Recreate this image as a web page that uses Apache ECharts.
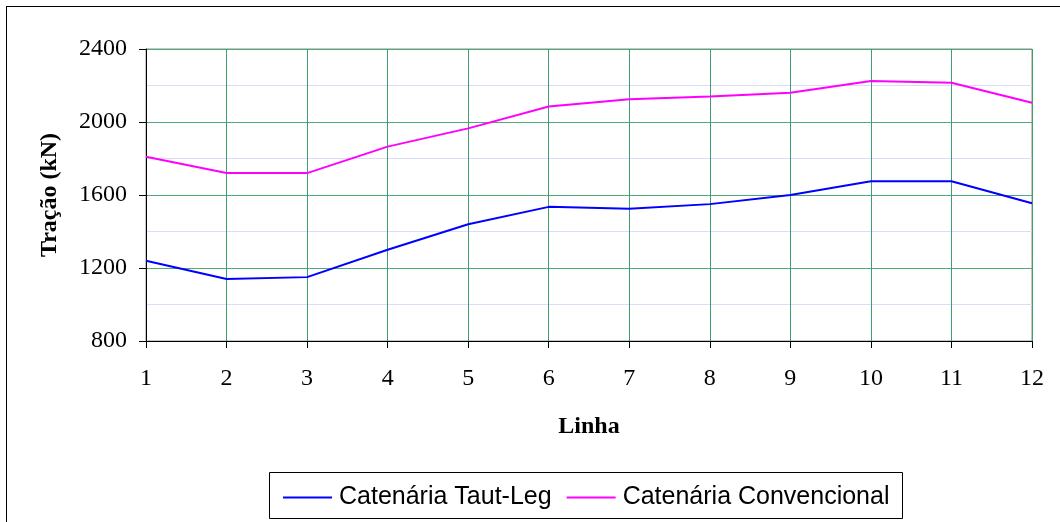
<!DOCTYPE html>
<html>
<head>
<meta charset="utf-8">
<script src="https://cdn.jsdelivr.net/npm/echarts@6/dist/echarts.min.js"></script>
<style>
html,body{margin:0;padding:0;background:#fff;}
#frame{position:absolute;left:6px;top:6px;width:1100px;height:600px;border:1px solid #000;box-sizing:border-box;}
#c{position:absolute;left:0;top:0;width:1060px;height:522px;}
</style>
</head>
<body>
<div id="frame"></div>
<div id="c"></div>
<script>
const categories = ['1','2','3','4','5','6','7','8','9','10','11','12'];
const tautLeg = [1240, 1140, 1150, 1300, 1440, 1535, 1525, 1550, 1600, 1675, 1675, 1555];
const convencional = [1810, 1720, 1720, 1865, 1965, 2085, 2125, 2140, 2160, 2225, 2215, 2105];
const seriesNames = ['Catenária Taut-Leg', 'Catenária Convencional'];
const yTitle = 'Tração (kN)';
const xTitle = 'Linha';

const chart = echarts.init(document.getElementById('c'), null, {renderer:'canvas'});
const serif = 'Liberation Serif';
chart.setOption({
  backgroundColor: 'transparent',
  animation: false,
  grid: {left:146, right:28, top:49, bottom:181, show:true, borderColor:'#8c8c8c', borderWidth:1},
  xAxis: {
    type:'category', data:categories, boundaryGap:false,
    axisLine:{lineStyle:{color:'#000', width:1}},
    axisTick:{show:true, inside:false, length:7, lineStyle:{color:'#000'}, alignWithLabel:true},
    axisLabel:{color:'#000', fontFamily:serif, fontSize:24, margin:26},
    splitLine:{show:true, lineStyle:{color:'#3f9f6c', width:1}},
    name:xTitle, nameLocation:'middle', nameGap:74,
    nameTextStyle:{color:'#000', fontFamily:serif, fontSize:24, fontWeight:'bold'}
  },
  yAxis: {
    type:'value', min:800, max:2400, interval:400,
    axisLine:{show:true, lineStyle:{color:'#000', width:1}},
    axisTick:{show:true, length:7, lineStyle:{color:'#000'}},
    axisLabel:{color:'#000', fontFamily:serif, fontSize:24, margin:19, formatter:function(v){return String(v);}},
    splitLine:{show:true, lineStyle:{color:'#4fa97b', width:1}},
    minorTick:{show:false, splitNumber:2},
    minorSplitLine:{show:true, lineStyle:{color:'#dcdcf6', width:1}},
    name:yTitle, nameLocation:'middle', nameGap:84, nameRotate:90,
    nameTextStyle:{color:'#000', fontFamily:serif, fontSize:24, fontWeight:'bold'}
  },
  legend: {
    left:283, top:485, padding:0, itemGap:15, itemWidth:49, itemHeight:2, icon:'rect',
    textStyle:{color:'#000', fontFamily:'Liberation Sans', fontSize:25, padding:[0,0,0,2]},
    data:seriesNames
  },
  graphic: [{type:'rect', shape:{x:269.5, y:472.5, width:633, height:46}, style:{fill:'none', stroke:'#000', lineWidth:1}, z:-1}],
  series: [
    {name:seriesNames[0], type:'line', data:tautLeg, symbol:'none', lineStyle:{color:'#0000ff', width:2}, itemStyle:{color:'#0000ff'}},
    {name:seriesNames[1], type:'line', data:convencional, symbol:'none', lineStyle:{color:'#ff00ff', width:2}, itemStyle:{color:'#ff00ff'}}
  ]
});
</script>
</body>
</html>
